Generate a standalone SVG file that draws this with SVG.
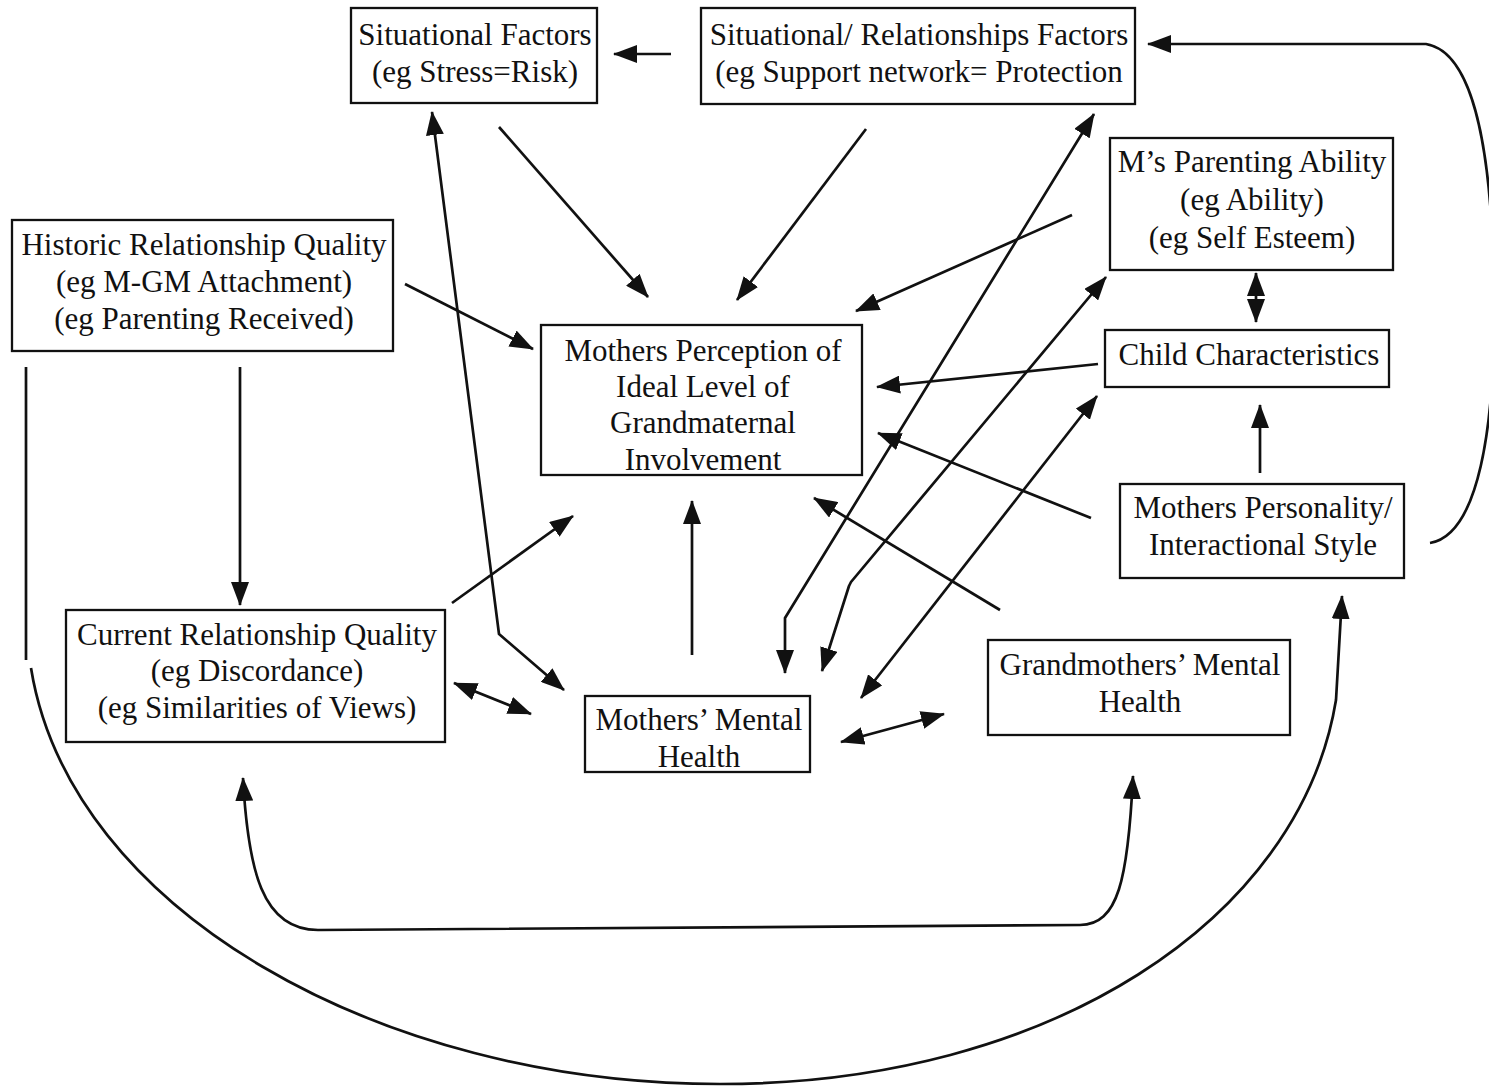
<svg xmlns="http://www.w3.org/2000/svg" width="1489" height="1088" viewBox="0 0 1489 1088">
  <style>
    .box { fill: #fff; stroke: #111; stroke-width: 2.3; }
    .lbl { font-family: "Liberation Serif", "Times New Roman", serif; font-size: 31px; fill: #111; text-anchor: middle; }
    .ln { fill: none; stroke: #111; stroke-width: 2.7; stroke-linejoin: round; }
    .one { marker-end: url(#ah); }
    .two { marker-start: url(#ah); marker-end: url(#ah); }
  </style>
  <defs>
    <marker id="ah" viewBox="0 0 24 18" refX="23" refY="9" markerWidth="24" markerHeight="18" markerUnits="userSpaceOnUse" orient="auto-start-reverse">
      <path d="M0,0 L24,9 L0,18 z" fill="#111"/>
    </marker>
  </defs>
  <rect width="1489" height="1088" fill="#fff"/>

  <g id="connectors">
    <!-- top pair -->
    <line class="ln one" x1="671" y1="54" x2="614" y2="54"/>
    <line class="ln one" x1="499" y1="127" x2="648" y2="297"/>
    <line class="ln one" x1="866" y1="129" x2="737" y2="300"/>
    <!-- into the central perception node -->
    <line class="ln one" x1="405" y1="284" x2="533" y2="349"/>
    <line class="ln one" x1="1072" y1="215" x2="856" y2="311"/>
    <line class="ln one" x1="1098" y1="364" x2="877" y2="387"/>
    <line class="ln one" x1="1091" y1="518" x2="878" y2="433"/>
    <line class="ln one" x1="1000" y1="610" x2="814" y2="498"/>
    <line class="ln one" x1="452" y1="603" x2="573" y2="516"/>
    <line class="ln one" x1="692" y1="655" x2="692" y2="501"/>
    <!-- long diagonals from mothers' mental health -->
    <polyline class="ln two" points="1094,114 785,618 785,673"/>
    <polyline class="ln two" points="1106,277 851,582 849,586 822,671"/>
    <line class="ln two" x1="1097" y1="396" x2="861" y2="698"/>
    <polyline class="ln two" points="432,112 499,634 564,690"/>
    <!-- lower pairs -->
    <line class="ln two" x1="454" y1="683" x2="531" y2="714"/>
    <line class="ln two" x1="841" y1="742" x2="944" y2="714"/>
    <line class="ln one" x1="240" y1="367" x2="240" y2="605"/>
    <!-- right column -->
    <line class="ln two" x1="1256" y1="273" x2="1256" y2="322"/>
    <line class="ln one" x1="1260" y1="473" x2="1260" y2="405"/>
    <path class="ln one" d="M1430,543 C1478,535 1496,430 1494,290 C1492,150 1474,52 1426,44 L1148,44"/>
    <!-- bottom curves -->
    <path class="ln two" d="M243,778 C248,870 262,930 318,930 L1080,925 C1118,925 1128,880 1133,776"/>
    <polyline class="ln" points="26,367 26,660"/>
    <path class="ln one" d="M31,668 C70,910 380,1084 720,1084 C1050,1084 1300,920 1336,700 L1342,596"/>
  </g>

  <g id="n-situational">
    <rect class="box" x="351" y="8" width="246" height="95"/>
    <text class="lbl" x="475" y="45">Situational Factors</text>
    <text class="lbl" x="475" y="82">(eg Stress=Risk)</text>
  </g>
  <g id="n-situational-rel">
    <rect class="box" x="701" y="8" width="434" height="96"/>
    <text class="lbl" x="919" y="45">Situational/ Relationships Factors</text>
    <text class="lbl" x="919" y="82">(eg Support network= Protection</text>
  </g>
  <g id="n-parenting">
    <rect class="box" x="1110" y="138" width="283" height="132"/>
    <text class="lbl" x="1252" y="172">M’s Parenting Ability</text>
    <text class="lbl" x="1252" y="210">(eg Ability)</text>
    <text class="lbl" x="1252" y="248">(eg Self Esteem)</text>
  </g>
  <g id="n-historic">
    <rect class="box" x="12" y="220" width="381" height="131"/>
    <text class="lbl" x="204" y="255">Historic Relationship Quality</text>
    <text class="lbl" x="204" y="292">(eg M-GM Attachment)</text>
    <text class="lbl" x="204" y="329">(eg Parenting Received)</text>
  </g>
  <g id="n-perception">
    <rect class="box" x="541" y="325" width="321" height="150"/>
    <text class="lbl" x="703" y="361">Mothers Perception of</text>
    <text class="lbl" x="703" y="397">Ideal Level of</text>
    <text class="lbl" x="703" y="433">Grandmaternal</text>
    <text class="lbl" x="703" y="470">Involvement</text>
  </g>
  <g id="n-child">
    <rect class="box" x="1105" y="330" width="284" height="57"/>
    <text class="lbl" x="1249" y="365">Child Characteristics</text>
  </g>
  <g id="n-personality">
    <rect class="box" x="1120" y="484" width="284" height="94"/>
    <text class="lbl" x="1263" y="518">Mothers Personality/</text>
    <text class="lbl" x="1263" y="555">Interactional Style</text>
  </g>
  <g id="n-current">
    <rect class="box" x="66" y="610" width="379" height="132"/>
    <text class="lbl" x="257" y="645">Current Relationship Quality</text>
    <text class="lbl" x="257" y="681">(eg Discordance)</text>
    <text class="lbl" x="257" y="718">(eg Similarities of Views)</text>
  </g>
  <g id="n-mothers-mh">
    <rect class="box" x="585" y="696" width="225" height="76"/>
    <text class="lbl" x="699" y="730">Mothers’ Mental</text>
    <text class="lbl" x="699" y="767">Health</text>
  </g>
  <g id="n-grandmothers-mh">
    <rect class="box" x="988" y="640" width="302" height="95"/>
    <text class="lbl" x="1140" y="675">Grandmothers’ Mental</text>
    <text class="lbl" x="1140" y="712">Health</text>
  </g>
</svg>
